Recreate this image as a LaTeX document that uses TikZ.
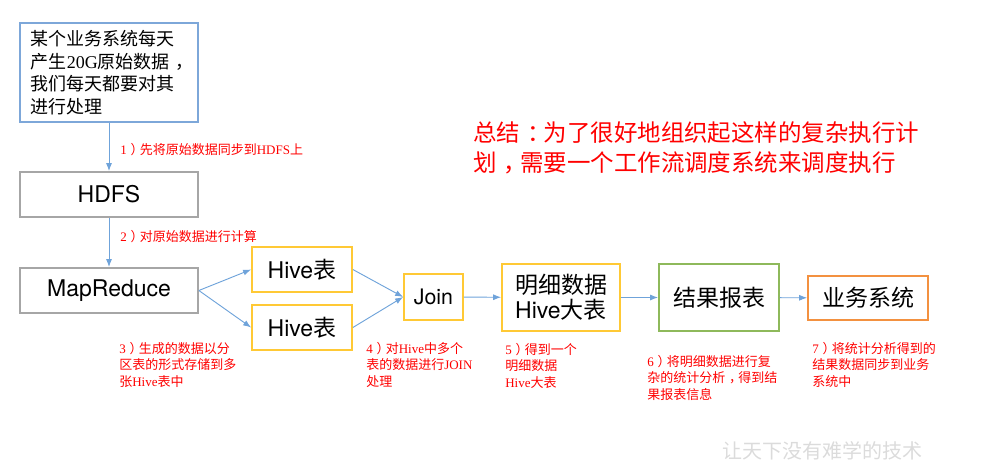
\documentclass[tikz,border=0pt]{standalone}
\usepackage{fontspec}
\setmainfont{Noto Sans CJK SC}
\newfontfamily\hel{TeX Gyre Heros}
\newfontfamily\tms{Liberation Serif}
\usetikzlibrary{arrows.meta}
\definecolor{boxblue}{HTML}{7DA7D9}
\definecolor{boxgray}{HTML}{A6A6A6}
\definecolor{boxgold}{HTML}{FFC935}
\definecolor{boxgreen}{HTML}{8EB95B}
\definecolor{boxorange}{HTML}{F39140}
\definecolor{arrblue}{HTML}{6FA3DA}
\definecolor{notered}{HTML}{FF0000}
% centred full-width punctuation
\newcommand{\cpunct}[1]{\kern.3em#1\kern-.3em}
\tikzset{
  box/.style={rectangle, draw=#1, line width=1.3pt, inner sep=0pt, align=center,
              font=\fontsize{17.25pt}{18.75pt}\selectfont},
  note/.style={anchor=north west, inner sep=0pt, align=left, text=notered,
               font=\fontsize{9.75pt}{12.4pt}\selectfont},
  arr/.style={-{Latex[length=6pt,width=4.5pt]}, line width=0.7pt, draw=arrblue},
}

\begin{document}
\begin{tikzpicture}[x=0.75pt, y=-0.75pt]
\useasboundingbox (0,0) rectangle (1007,472);
% main chain
\node[box=boxblue, minimum width=133.5pt, minimum height=74.25pt, text width=117pt, align=left,
      font=\fontsize{13.5pt}{16.9pt}\selectfont] (src) at (109,72.5)
  {某个业务系统每天\\产生{\tms 20G}原始数据\cpunct{，}\\我们每天都要对其\\进行处理};
\node[box=boxgray, minimum width=133.5pt, minimum height=33.75pt] (hdfs) at (109,194.5) {\hel HDFS};
\node[box=boxgray, minimum width=133.5pt, minimum height=33.75pt] (mr) at (109,290.5) {\hel MapReduce};
\node[box=boxgold, minimum width=75pt, minimum height=33.75pt] (hiveA) at (302,269.5) {{\hel Hive}表};
\node[box=boxgold, minimum width=75pt, minimum height=33.75pt] (hiveB) at (302,327.5) {{\hel Hive}表};
\node[box=boxgold, minimum width=44.25pt, minimum height=34.5pt, font=\fontsize{16pt}{18pt}\selectfont] (join) at (433.5,297) {\hel Join};
\node[box=boxgold, minimum width=88.5pt, minimum height=50.25pt] (detail) at (561,297.5) {明细数据\\{\hel Hive}大表};
\node[box=boxgreen, minimum width=90pt, minimum height=50.25pt] (report) at (719,297.5) {结果报表};
\node[box=boxorange, minimum width=90pt, minimum height=33pt] (biz) at (868,298) {业务系统};

\draw[arr] (src) -- (hdfs);
\draw[arr] (hdfs) -- (mr);
\draw[arr] (mr.east) -- (hiveA.west);
\draw[arr] (mr.east) -- (hiveB.west);
\draw[arr] (hiveA.east) -- (join.west);
\draw[arr] (hiveB.east) -- (join.west);
\draw[arr] (join) -- (detail);
\draw[arr] (detail) -- (report);
\draw[arr] (report) -- (biz);

% step notes
\node[note] (n1) at (120,143) {{\tms 1}\cpunct{）}先将原始数据同步到{\tms HDFS}上};
\node[note] (n2) at (120,230) {{\tms 2}\cpunct{）}对原始数据进行计算};
\node[note] (n3) at (119,342) {{\tms 3}\cpunct{）}生成的数据以分\\区表的形式存储到多\\张{\tms Hive}表中};
\node[note] (n4) at (366,342) {{\tms 4}\cpunct{）}对{\tms Hive}中多个\\表的数据进行{\tms JOIN}\\处理};
\node[note] (n5) at (505,343) {{\tms 5}\cpunct{）}得到一个\\明细数据\\{\tms Hive}大表};
\node[note] (n6) at (647,355) {{\tms 6}\cpunct{）}将明细数据进行复\\杂的统计分析\cpunct{，}得到结\\果报表信息};
\node[note] (n7) at (812,342) {{\tms 7}\cpunct{）}将统计分析得到的\\结果数据同步到业务\\系统中};

% summary
\node[anchor=north west, inner sep=0pt, align=left, text=notered,
      font=\fontsize{17.6pt}{22.5pt}\selectfont] (sum) at (473,121)
  {总结\cpunct{：}为了很好地组织起这样的复杂执行计\\划\cpunct{，}需要一个工作流调度系统来调度执行};
\node[inner sep=0pt, text=black!14, font=\fontsize{15pt}{15pt}\selectfont] (wm) at (822,451) {让天下没有难学的技术};
\end{tikzpicture}
\end{document}
